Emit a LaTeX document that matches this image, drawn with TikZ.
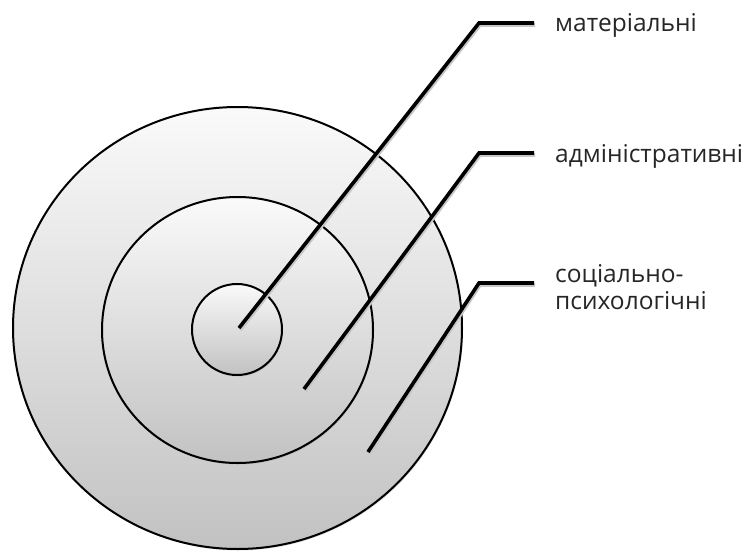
\documentclass[tikz,border=0pt]{standalone}
\usepackage{fontspec}
\setmainfont{Open Sans}
\usetikzlibrary{shapes.geometric,shadows}
\begin{document}
\begin{tikzpicture}[x=1pt,y=-1pt,
  ring/.style={ellipse, draw=black, line width=2pt, top color=gray!4, bottom color=gray!48,
     drop shadow={opacity=0.25, shadow xshift=1pt, shadow yshift=-1.5pt}, inner sep=0pt},
  leader/.style={draw=black, line width=3.6pt},
  leadershadow/.style={draw=black!22, line width=3.6pt},
  lbl/.style={anchor=base west, inner sep=0pt, text=black!85, font=\fontsize{24.5}{27.5}\selectfont, align=left}]
\useasboundingbox (0,0) rectangle (747,551);
% circles
\node[ring, minimum width=449pt, minimum height=442pt] (outer) at (237.5,328) {};
\node[ring, minimum width=271pt, minimum height=266pt] (middle) at (237.5,330) {};
\node[ring, minimum width=90pt, minimum height=91pt] (inner) at (237,329.5) {};
% leader points
\coordinate (p1) at (239,328);
\coordinate (c1) at (479,23);
\coordinate (e1) at (534,23);
\coordinate (p2) at (304,389);
\coordinate (c2) at (479,153);
\coordinate (e2) at (534,153);
\coordinate (p3) at (368,452);
\coordinate (c3) at (479,283);
\coordinate (e3) at (534,283);
% shadows of leaders
\begin{scope}[transform canvas={shift={(1pt,-2pt)}}]
\draw[leadershadow] (p1) -- (c1) -- (e1);
\draw[leadershadow] (p2) -- (c2) -- (e2);
\draw[leadershadow] (p3) -- (c3) -- (e3);
\end{scope}
\draw[leader] (p1) -- (c1) -- (e1);
\draw[leader] (p2) -- (c2) -- (e2);
\draw[leader] (p3) -- (c3) -- (e3);
% labels
\node[lbl] (t1) at (555,32) {матеріальні};
\node[lbl] (t2) at (555,162) {адміністративні};
\node[lbl, anchor=west] (t3) at (555,287) {соціально-\\психологічні};
\end{tikzpicture}
\end{document}
